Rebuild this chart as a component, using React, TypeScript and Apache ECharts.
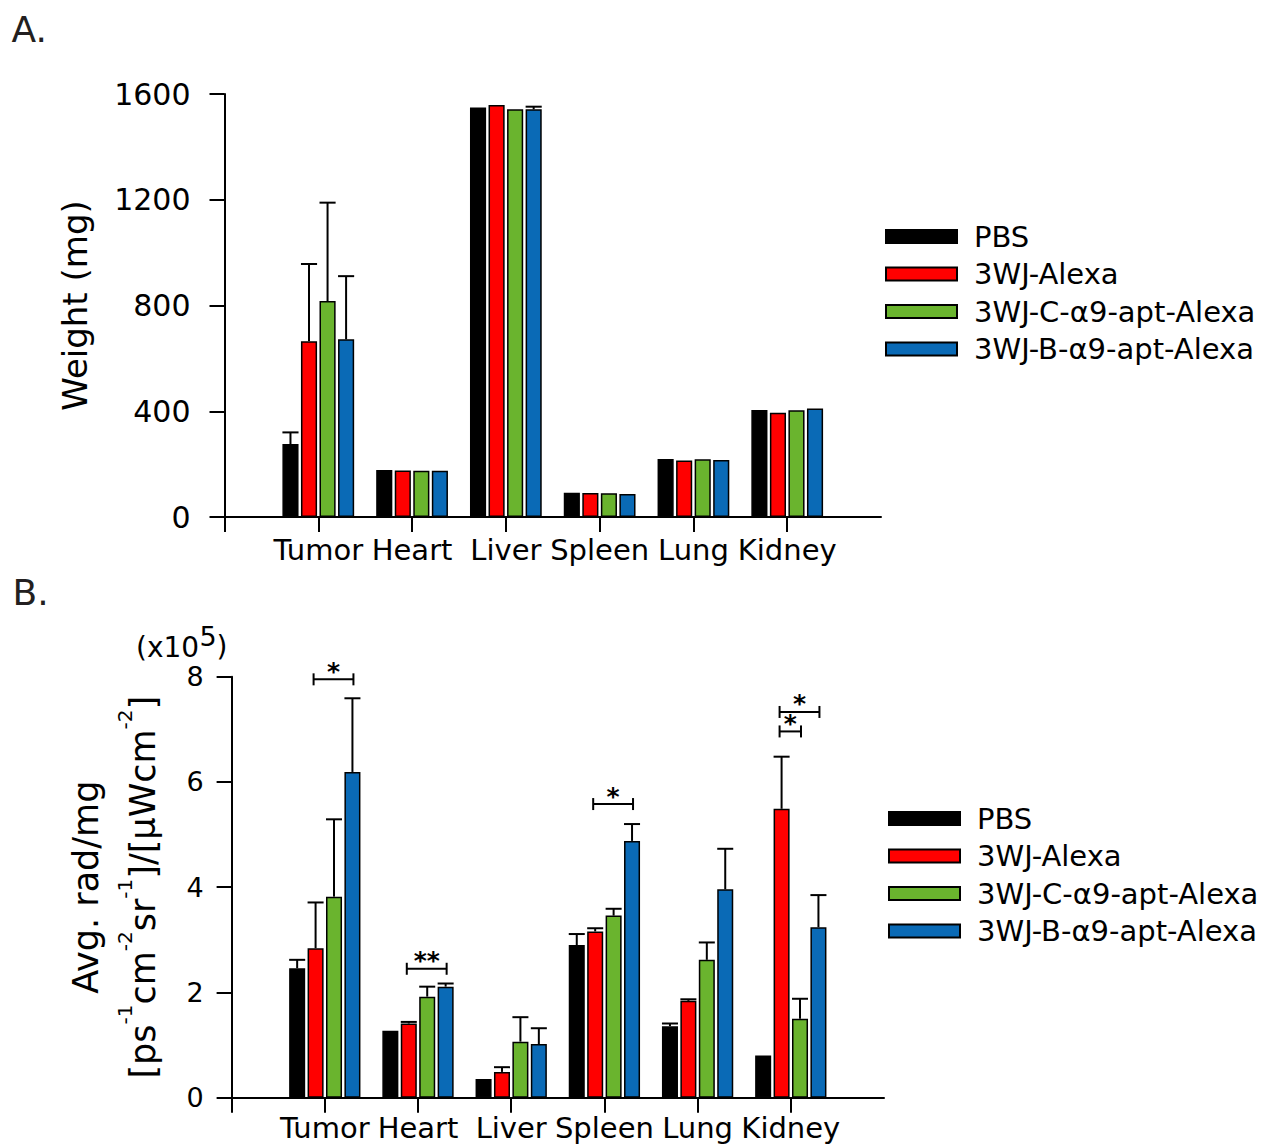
import React, { useEffect, useRef } from 'react';
import * as echarts from 'echarts';

const FONT = 'DejaVu Sans';

const organs = ['Tumor', 'Heart', 'Liver', 'Spleen', 'Lung', 'Kidney'];
const groups = ['PBS', '3WJ-Alexa', '3WJ-C-α9-apt-Alexa', '3WJ-B-α9-apt-Alexa'];
const colors = ['#000000', '#ff0000', '#6ab42e', '#0a6ab6'];

// Panel A: organ weight (mg), mean and upper error (SD)
const weightPBS = [276, 178, 1549, 92, 219, 405];
const weightAlexa = [665, 176, 1558, 91, 214, 394];
const weightC = [817, 175, 1542, 90, 218, 404];
const weightB = [672, 175, 1542, 87, 216, 410];
const weightErrPBS = [44, 0, 0, 0, 0, 0];
const weightErrAlexa = [292, 0, 0, 0, 0, 0];
const weightErrC = [372, 0, 0, 0, 0, 0];
const weightErrB = [239, 0, 10, 0, 0, 0];

// Panel B: Avg. rad/mg (x10^5), mean and upper error (SD)
const radPBS = [2.46, 1.27, 0.355, 2.9, 1.36, 0.8];
const radAlexa = [2.84, 1.41, 0.49, 3.16, 1.84, 5.49];
const radC = [3.82, 1.92, 1.065, 3.46, 2.62, 1.5];
const radB = [6.19, 2.11, 1.02, 4.88, 3.96, 3.24];
const radErrPBS = [0.16, 0, 0, 0.21, 0.05, 0];
const radErrAlexa = [0.87, 0.03, 0.09, 0.06, 0.03, 0.99];
const radErrC = [1.47, 0.19, 0.465, 0.13, 0.33, 0.38];
const radErrB = [1.4, 0.06, 0.3, 0.32, 0.77, 0.61];

// Significance brackets in panel B: organ, from group, to group, height, label
const sigOrgan = ['Tumor', 'Heart', 'Spleen', 'Kidney', 'Kidney'];
const sigFrom = [1, 1, 1, 1, 1];
const sigTo = [3, 3, 3, 2, 3];
const sigHeight = [7.95, 2.45, 5.58, 6.96, 7.33];
const sigLabel = ['*', '**', '*', '*', '*'];

const yTicksA = { min: 0, max: 1600, interval: 400 };
const yTicksB = { min: 0, max: 8, interval: 2 };

const axisCats = ['', ...organs, ''];

const CAT_GAP = 0.235;
const BAR_GAP = 0.15;

function geom(bandW: number) {
  const groupW = bandW * (1 - CAT_GAP);
  const w = groupW / (4 + 3 * BAR_GAP);
  return { w, step: w * (1 + BAR_GAP) };
}

function errRender(params: any, api: any) {
  const cat = api.value(0);
  const s = api.value(1);
  const v = api.value(2);
  const e = api.value(3);
  if (!(e > 0)) return null;
  const bandW = api.size([1, 0])[0];
  const { w, step } = geom(bandW);
  const base = api.coord([cat, v]);
  const top = api.coord([cat, v + e]);
  const x = base[0] + (s - 1.5) * step;
  const st = { stroke: '#000', lineWidth: 2 };
  return {
    type: 'group',
    children: [
      { type: 'line', shape: { x1: x, y1: base[1], x2: x, y2: top[1] }, style: st },
      { type: 'line', shape: { x1: x - w / 2, y1: top[1], x2: x + w / 2, y2: top[1] }, style: st },
    ],
  };
}

function sigRender(params: any, api: any) {
  const cat = api.value(0);
  const f = api.value(1);
  const t = api.value(2);
  const h = api.value(3);
  const bandW = api.size([1, 0])[0];
  const { step } = geom(bandW);
  const p = api.coord([cat, h]);
  const x1 = p[0] + (f - 1.5) * step - 2;
  const x2 = p[0] + (t - 1.5) * step + 1;
  const y = p[1];
  const st = { stroke: '#000', lineWidth: 2 };
  return {
    type: 'group',
    children: [
      { type: 'line', shape: { x1, y1: y, x2, y2: y }, style: st },
      { type: 'line', shape: { x1, y1: y - 6, x2: x1, y2: y + 6 }, style: st },
      { type: 'line', shape: { x1: x2, y1: y - 6, x2, y2: y + 6 }, style: st },
      {
        type: 'text',
        x: (x1 + x2) / 2,
        y: y - 8,
        style: {
          text: sigLabel[params.dataIndex],
          font: `bold 25px "${FONT}"`,
          lineHeight: 12,
          fill: '#000',
          align: 'center',
          verticalAlign: 'middle',
          textAlign: 'center',
          textVerticalAlign: 'middle',
        },
      },
    ],
  };
}

const weightVals = [weightPBS, weightAlexa, weightC, weightB];
const weightErrs = [weightErrPBS, weightErrAlexa, weightErrC, weightErrB];
const radVals = [radPBS, radAlexa, radC, radB];
const radErrs = [radErrPBS, radErrAlexa, radErrC, radErrB];

function errData(vals: number[][], errs: number[][]) {
  const out: number[][] = [];
  vals.forEach((arr, s) => arr.forEach((v, i) => out.push([i + 1, s, v, errs[s][i]])));
  return out;
}

function barSeries(vals: number[][], axisIndex: number) {
  return vals.map((arr, s) => ({
    type: 'bar',
    name: groups[s],
    xAxisIndex: axisIndex,
    yAxisIndex: axisIndex,
    data: [null, ...arr, null],
    barCategoryGap: `${CAT_GAP * 100}%`,
    barGap: `${BAR_GAP * 100}%`,
    itemStyle: { color: colors[s], borderColor: '#000', borderWidth: 1.5 },
  }));
}

const axisLineStyle = { color: '#000', width: 2 };

function xAxis(gridIndex: number, margin: number) {
  return {
    type: 'category',
    gridIndex,
    data: axisCats,
    boundaryGap: false,
    axisLine: { lineStyle: axisLineStyle },
    axisTick: { show: true, length: 15, interval: (i: number) => i <= 6, lineStyle: axisLineStyle },
    axisLabel: { interval: 0, margin, fontSize: 29, fontFamily: FONT, color: '#000' },
    splitLine: { show: false },
  };
}

const legendBase = {
  orient: 'vertical',
  data: groups,
  icon: 'rect',
  itemWidth: 71,
  itemHeight: 13,
  itemGap: 8.5,
  selectedMode: false,
  textStyle: { fontSize: 29, fontFamily: FONT, color: '#000', lineHeight: 28, padding: [0, 0, 0, 12] },
};

const textAt = (text: string, x: number, y: number, size: number, align = 'left', fill = '#000') => ({
  type: 'text',
  x,
  y,
  style: {
    text,
    font: `${size}px "${FONT}"`,
    fill,
    align,
    verticalAlign: 'middle',
    textAlign: align,
    textVerticalAlign: 'middle',
  },
});

const option = {
  animation: false,
  textStyle: { fontFamily: FONT },
  grid: [
    { left: 224.5, right: 382, top: 94, height: 423, containLabel: false },
    { left: 231.6, right: 379, top: 676.7, height: 421, containLabel: false },
  ],
  xAxis: [xAxis(0, 18), xAxis(1, 16)],
  yAxis: [
    {
      type: 'value',
      gridIndex: 0,
      ...yTicksA,
      name: 'Weight (mg)',
      nameLocation: 'middle',
      nameRotate: 90,
      nameGap: 133,
      nameTextStyle: { fontSize: 34, fontFamily: FONT, color: '#000', lineHeight: 34 },
      axisLine: { show: true, lineStyle: axisLineStyle },
      axisTick: { show: true, length: 15, lineStyle: axisLineStyle },
      axisLabel: { margin: 34, fontSize: 30, fontFamily: FONT, color: '#000', formatter: (v: number) => String(v) },
      splitLine: { show: false },
    },
    {
      type: 'value',
      gridIndex: 1,
      ...yTicksB,
      name: 'Avg. rad/mg\n{m|[ps}{s|-1}{m|cm}{s|-2}{m|sr}{s|-1}{m|]/[μWcm}{s|-2}{m|]}',
      nameLocation: 'middle',
      nameRotate: 90,
      nameGap: 60,
      nameTextStyle: {
        fontSize: 35,
        fontFamily: FONT,
        color: '#000',
        lineHeight: 57,
        rich: {
          m: { fontSize: 35, fontFamily: FONT, color: '#000', lineHeight: 57 },
          s: { fontSize: 20, fontFamily: FONT, color: '#000', lineHeight: 20, verticalAlign: 'top' },
        },
      },
      axisLine: { show: true, lineStyle: axisLineStyle },
      axisTick: { show: true, length: 15, lineStyle: axisLineStyle },
      axisLabel: { margin: 28, fontSize: 27, fontFamily: FONT, color: '#000', formatter: (v: number) => String(v) },
      splitLine: { show: false },
    },
  ],
  legend: [
    { ...legendBase, left: 880, top: 217 },
    { ...legendBase, left: 883, top: 799 },
  ],
  graphic: [
    textAt('A.', 11.5, 29.5, 36, 'left', '#231f20'),
    textAt('B.', 12.5, 592, 36, 'left', '#231f20'),
    textAt('(x10', 136, 647, 28, 'left'),
    textAt('5', 208, 636, 27, 'center'),
    textAt(')', 216.5, 646, 28, 'left'),
  ],
  series: [
    ...barSeries(weightVals, 0),
    {
      type: 'custom',
      name: 'errA',
      xAxisIndex: 0,
      yAxisIndex: 0,
      z: 5,
      renderItem: errRender,
      encode: { x: 0, y: 2 },
      data: errData(weightVals, weightErrs),
    },
    ...barSeries(radVals, 1),
    {
      type: 'custom',
      name: 'errB',
      xAxisIndex: 1,
      yAxisIndex: 1,
      z: 5,
      renderItem: errRender,
      encode: { x: 0, y: 2 },
      data: errData(radVals, radErrs),
    },
    {
      type: 'custom',
      name: 'sigB',
      xAxisIndex: 1,
      yAxisIndex: 1,
      z: 5,
      renderItem: sigRender,
      encode: { x: 0, y: 3 },
      data: sigOrgan.map((o, k) => [organs.indexOf(o) + 1, sigFrom[k], sigTo[k], sigHeight[k]]),
    },
  ],
};

export default function App() {
  const ref = useRef<HTMLDivElement>(null);
  useEffect(() => {
    if (!ref.current) return;
    const chart = echarts.init(ref.current, null, { renderer: 'svg' });
    chart.setOption(option as any);
    return () => chart.dispose();
  }, []);
  return <div ref={ref} style={{ position: 'absolute', left: 0, top: 0, width: 1263, height: 1145 }} />;
}
